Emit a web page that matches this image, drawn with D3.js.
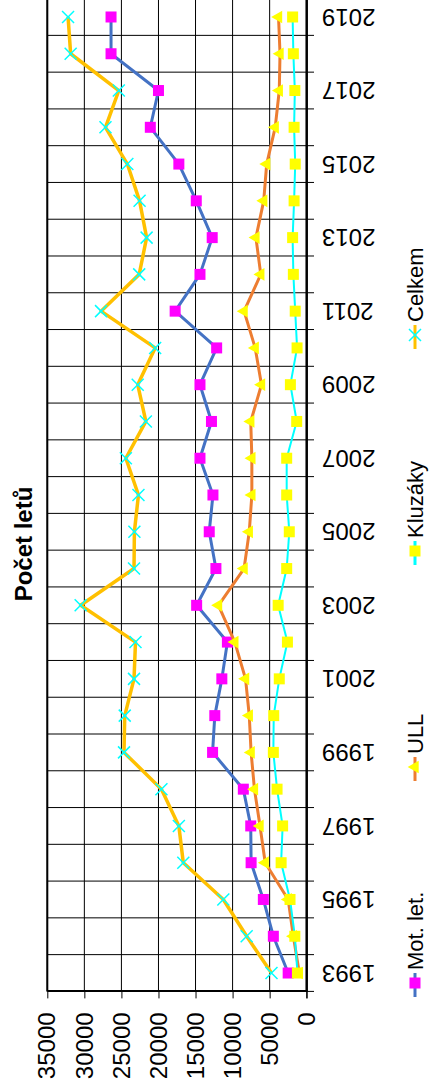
<!DOCTYPE html>
<html>
<head>
<meta charset="utf-8">
<script src="https://cdn.jsdelivr.net/npm/d3@7"></script>
<style>
  body { margin: 0; background: #fff; }
  text { font-family: "Liberation Sans", Arial, sans-serif; }
</style>
</head>
<body>
<script>
// data
var years = ['1993','1994','1995','1996','1997','1998','1999','2000','2001','2002','2003','2004','2005','2006','2007','2008','2009','2010','2011','2012','2013','2014','2015','2016','2017','2018','2019'];
var motLet  = [2500,4500,5850,7500,7550,8550,12700,12400,11450,10700,14850,12250,13150,12650,14400,12850,14400,12150,17750,14400,12750,14900,17250,21100,20000,26400,26400];
var ull     = [1000,1800,2500,5600,6300,7050,7500,7750,8250,9700,11900,8450,7750,7400,7400,7550,6100,6950,8450,6200,6850,5800,5400,4250,3700,3600,3800];
var kluzaky = [1250,1600,2250,3450,3250,4000,4500,4450,3700,2600,3850,2700,2350,2700,2700,1350,2200,1300,1550,1800,1900,1700,1550,1700,1600,1800,1900];
var celkem  = [4750,8100,11250,16650,17250,19600,24650,24550,23300,23100,30500,23300,23250,22700,24400,21700,22800,20450,27750,22600,21600,22550,24200,27150,25350,31850,32200];
var yTicks  = [0,5000,10000,15000,20000,25000,30000,35000];
var seriesNames = ['Mot. let.','ULL','Kluzáky','Celkem'];

var svg = d3.select("body").append("svg").attr("width",429).attr("height",1092);

//the whole chart is turned a quarter turn, so draw it flat and rotate the group
var g = svg.append("g").attr("transform","translate(0,1092) rotate(-90)");

var x = d3.scaleBand().domain(years).range([100.6,1093.4]).padding(0);
var y = d3.scaleLinear().domain([0,35000]).range([306.7,47.3]);
var cx = function(i){ return x(years[i]) + x.bandwidth()/2; };

// grid
g.selectAll("line.hgrid").data(yTicks).enter().append("line")
    .attr("x1",100.6).attr("x2",1093.4)
    .attr("y1",function(d){ return y(d); }).attr("y2",function(d){ return y(d); })
    .attr("stroke","#000").attr("stroke-width",1);

var bounds = years.map(function(d){ return x(d); }).concat([x.range()[1]]);
g.selectAll("line.vgrid").data(bounds).enter().append("line")
    .attr("x1",function(d){ return d; }).attr("x2",function(d){ return d; })
    .attr("y1",47.3).attr("y2",306.7)
    .attr("stroke","#000").attr("stroke-width",1);

// category ticks between categories
g.selectAll("line.ctick").data(bounds).enter().append("line")
    .attr("x1",function(d){ return d; }).attr("x2",function(d){ return d; })
    .attr("y1",306.7).attr("y2",314)
    .attr("stroke","#000").attr("stroke-width",1);

// value axis
var yAxis = g.append("g").attr("transform","translate(100.6,0)")
    .call(d3.axisLeft(y).tickValues(yTicks).tickFormat(d3.format("d")).tickSize(7).tickPadding(14).tickSizeOuter(0));
yAxis.select(".domain").attr("stroke","#000").attr("stroke-width",2);
yAxis.selectAll("line").attr("stroke","#000");
yAxis.selectAll("text").attr("font-size","24px").attr("fill","#000")
    .style("font-family","Liberation Sans, Arial, sans-serif");

// axis line at zero and left border
g.append("line").attr("x1",100.6).attr("x2",1093.4).attr("y1",306.7).attr("y2",306.7)
    .attr("stroke","#000").attr("stroke-width",2.5);
g.append("line").attr("x1",93.6).attr("x2",100.6).attr("y1",306.7).attr("y2",306.7)
    .attr("stroke","#000").attr("stroke-width",1);
g.append("line").attr("x1",100.6).attr("x2",1093.4).attr("y1",47.3).attr("y2",47.3)
    .attr("stroke","#000").attr("stroke-width",2);

// year labels, every second one
g.selectAll("text.year").data(years.filter(function(d,i){ return i%2==0; })).enter().append("text")
    .attr("transform",function(d){ return "translate("+(x(d)+x.bandwidth()/2)+",322) rotate(-90)"; })
    .attr("text-anchor","end").attr("dy","0.35em")
    .attr("font-size","24px").text(function(d){ return d; });

// title
g.append("text").attr("x",548).attr("y",32).attr("text-anchor","middle")
    .attr("font-size","24px").attr("font-weight","bold").text("Počet letů");

var line = d3.line()
    .x(function(d,i){ return cx(i); })
    .y(function(d){ return y(d); });

var triangle = d3.symbol().type(d3.symbolTriangle).size(70);

function drawSeries(data, color, width, marker){
    g.append("path").attr("d",line(data)).attr("fill","none")
        .attr("stroke",color).attr("stroke-width",width).attr("stroke-linejoin","round");
    data.forEach(function(d,i){ marker(g, cx(i), y(d)); });
}

function square(fill){
    return function(p,px,py){
        p.append("rect").attr("x",px-5.5).attr("y",py-5.5).attr("width",11).attr("height",11).attr("fill",fill);
    };
}
function tri(p,px,py){
    p.append("path").attr("d",triangle()).attr("transform","translate("+px+","+py+")").attr("fill","#ffff00");
}
function cross(p,px,py){
    p.append("path").attr("d","M"+(px-6)+","+(py-6)+"L"+(px+6)+","+(py+6)+"M"+(px-6)+","+(py+6)+"L"+(px+6)+","+(py-6))
        .attr("stroke","#00ffff").attr("stroke-width",1.5).attr("fill","none");
}

drawSeries(motLet,"#4472c4",3,square("#ff00ff"));
drawSeries(ull,"#ed7d31",3,tri);
drawSeries(kluzaky,"#00ffff",2,square("#ffff00"));
drawSeries(celkem,"#ffc000",3.5,cross);

// legend
var legColors = ["#4472c4","#ed7d31","#00ffff","#ffc000"];
var legMarkers = [square("#ff00ff"),tri,square("#ffff00"),cross];
seriesNames.forEach(function(name,i){
    var mx = 109 + i*216;
    g.append("line").attr("x1",mx-14).attr("x2",mx+10).attr("y1",415).attr("y2",415)
        .attr("stroke",legColors[i]).attr("stroke-width",3);
    legMarkers[i](g,mx,415);
    g.append("text").attr("x",mx+13).attr("y",423).attr("font-size","22px").text(name);
});
</script>
</body>
</html>
